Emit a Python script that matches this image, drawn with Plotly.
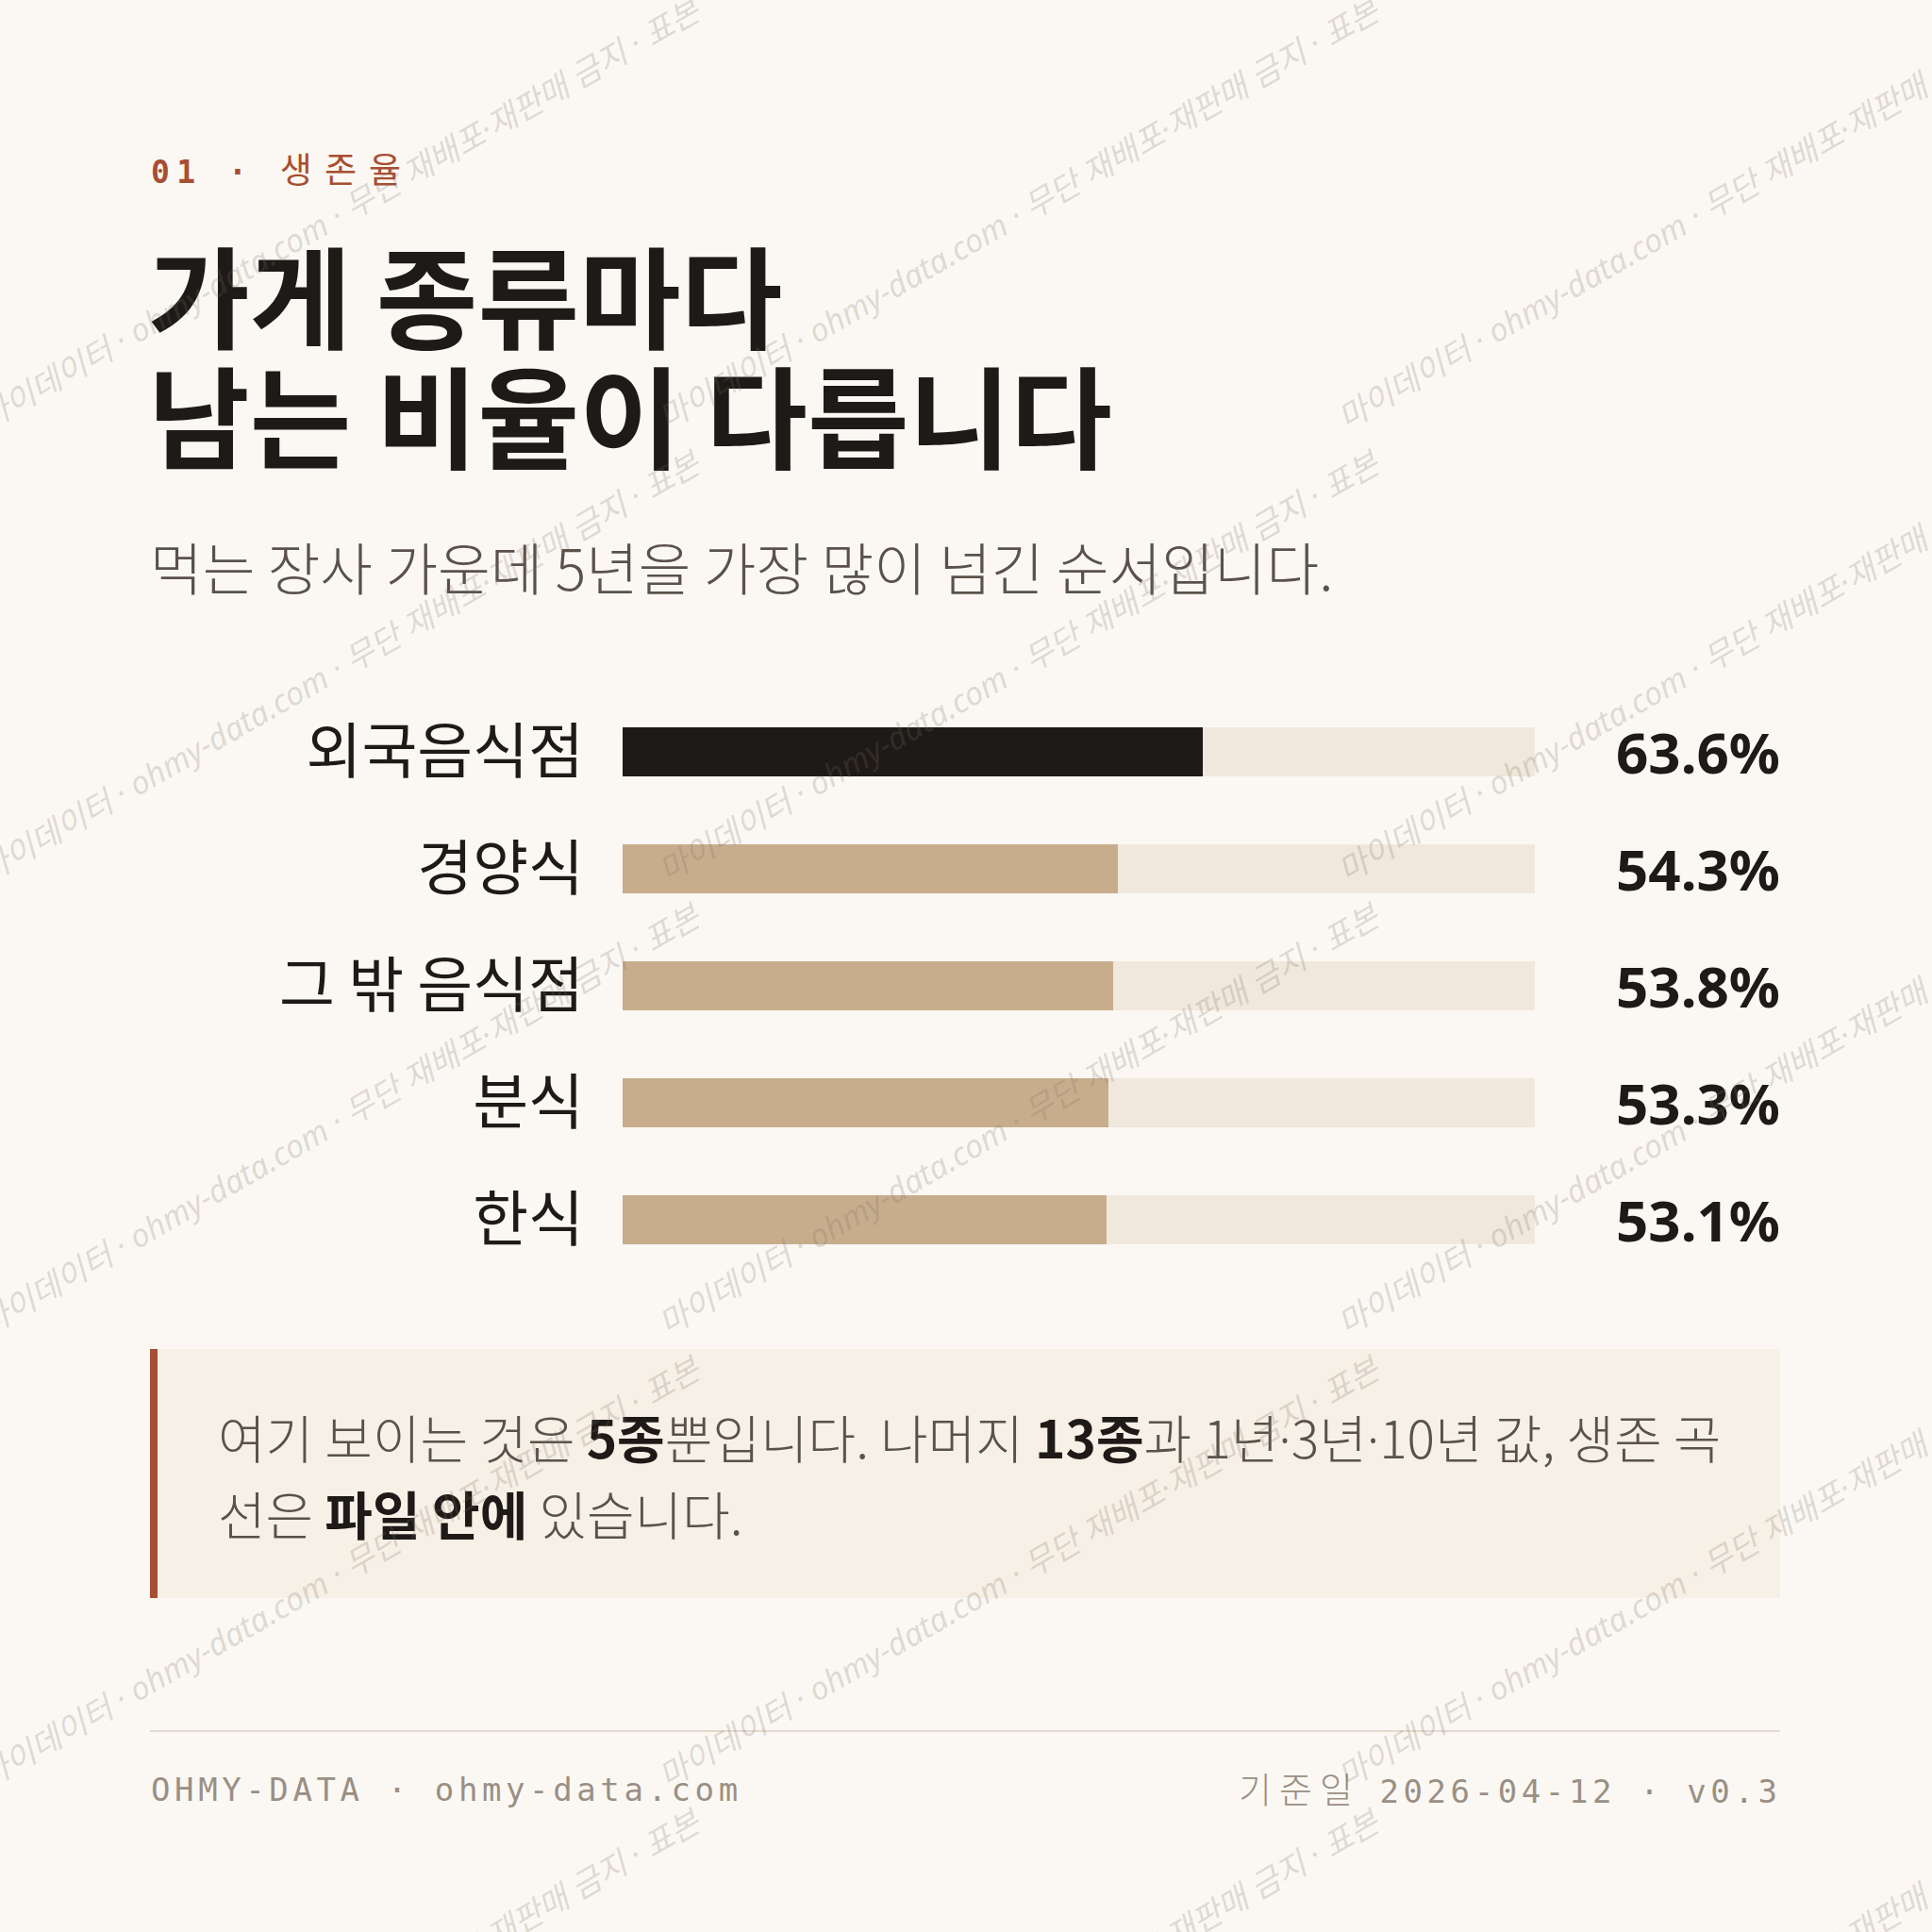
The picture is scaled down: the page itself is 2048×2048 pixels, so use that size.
import plotly.graph_objects as go

# ---------------- data ----------------
categories = ["외국음식점", "경양식", "그 밖 음식점", "분식", "한식"]
survival_5y = [63.6, 54.3, 53.8, 53.3, 53.1]
track_max = [100, 100, 100, 100, 100]
highlight = [True, False, False, False, False]

eyebrow_num = "01"
eyebrow_txt = "생존율"
title_lines = ["가게 종류마다", "남는 비율이 다릅니다"]
subtitle = "먹는 장사 가운데 5년을 가장 많이 넘긴 순서입니다."
note_line1 = ("여기 보이는 것은 <b>5종</b>뿐입니다. 나머지 <b>13종</b>과 "
              "1년·3년·10년 값, 생존 곡")
note_line2 = "선은 <b>파일 안에</b> 있습니다."
footer_left = "OHMY-DATA · ohmy-data.com"
footer_date_label = "기준일"
footer_date = "2026-04-12 · v0.3"
watermark = "마이데이터 · ohmy-data.com · 무단 재배포·재판매 금지 · 표본"

# ---------------- style ----------------
W = H = 2048
BG = "#FBF8F3"
INK = "#1E1A17"
MUTED = "#5A524A"
ACCENT = "#A84E32"
TAN = "#C8AD8D"
TRACK = "#F0E8DC"
NOTE_BG = "#F7F0E6"
FOOT = "#9A8F84"
RULE = "#E3DACD"
KR = "Noto Sans CJK KR, Noto Sans, sans-serif"
LATIN_KR = "Noto Sans, Noto Sans CJK KR, sans-serif"
MONO = "DejaVu Sans Mono, Liberation Mono, monospace"


def px(x):
    return x / W


def py(y):
    return 1 - y / H


def narrow_dots(s):
    return s.replace("·", "<span style='font-family:Noto Sans'>·</span>")


bar_colors = [INK if h else TAN for h in highlight]

fig = go.Figure()
fig.add_trace(go.Bar(
    x=track_max, y=categories, orientation="h", width=0.42,
    marker=dict(color=TRACK, line=dict(width=0)), hoverinfo="skip",
    showlegend=False))
fig.add_trace(go.Bar(
    x=survival_5y, y=categories, orientation="h", width=0.42,
    marker=dict(color=bar_colors, line=dict(width=0)),
    hovertemplate="%{y}: %{x:.1f}%<extra></extra>", showlegend=False))

annotations = []

# value labels
for c, v in zip(categories, survival_5y):
    annotations.append(dict(
        xref="paper", yref="y", x=px(1889), y=c, xanchor="right",
        yanchor="middle", showarrow=False, text=f"{v:.1f}%",
        font=dict(family=LATIN_KR, size=60, color=INK, weight=700)))

# eyebrow
annotations.append(dict(
    xref="paper", yref="paper", x=px(158), y=py(178), xanchor="left",
    yanchor="middle", showarrow=False,
    text=(f"<span style='font-family:{MONO};font-weight:bold;letter-spacing:7.5px'>"
          f"{eyebrow_num} · </span>"
          f"<span style='font-size:37px;letter-spacing:13px'>{eyebrow_txt}</span>"),
    font=dict(family=KR, size=33, color=ACCENT)))

# title
for i, line in enumerate(title_lines):
    annotations.append(dict(
        xref="paper", yref="paper", x=px(155), y=py(310 + 127 * i),
        xanchor="left", yanchor="middle", showarrow=False, text=line,
        font=dict(family=KR, size=117, color=INK, weight=700)))

# subtitle
annotations.append(dict(
    xref="paper", yref="paper", x=px(157), y=py(599), xanchor="left",
    yanchor="middle", showarrow=False, text=subtitle,
    font=dict(family=KR, size=60.5, color=MUTED, weight=300)))

# note text
for i, line in enumerate([note_line1, note_line2]):
    styled = narrow_dots(line).replace(
        "<b>", f"<span style='color:{INK}'><b>").replace("</b>", "</b></span>")
    annotations.append(dict(
        xref="paper", yref="paper", x=px(229), y=py(1522 + 81 * i),
        xanchor="left", yanchor="middle", showarrow=False, text=styled,
        font=dict(family=KR, size=55, color=MUTED, weight=300)))

# footer
annotations.append(dict(
    xref="paper", yref="paper", x=px(158), y=py(1897), xanchor="left",
    yanchor="middle", showarrow=False,
    text=f"<span style='letter-spacing:4.6px'>{footer_left}</span>",
    font=dict(family=MONO, size=34, color=FOOT)))
annotations.append(dict(
    xref="paper", yref="paper", x=px(1891), y=py(1894), xanchor="right",
    yanchor="middle", showarrow=False,
    text=(f"<span style='font-family:Noto Sans CJK KR;font-size:38px;"
          f"font-weight:300;letter-spacing:8px'>{footer_date_label}</span> "
          f"<span style='letter-spacing:4.6px'>{footer_date}</span>"),
    font=dict(family=MONO, size=34, color=FOOT)))

# watermark tiles (720 x 480 repeat, 30 degree tilt)
for i in range(0, 3):
    for j in range(-1, 5):
        cx = 360 + 720 * i
        cy = 226 + 480 * j
        annotations.append(dict(
            xref="paper", yref="paper", x=px(cx), y=py(cy),
            xanchor="center", yanchor="middle", showarrow=False,
            text=watermark, textangle=-30,
            font=dict(family=LATIN_KR, size=34,
                      color="rgba(120,110,100,0.23)", style="italic")))

shapes = [
    dict(type="rect", xref="paper", yref="paper", x0=px(159), x1=px(1887),
         y0=py(1694), y1=py(1430), fillcolor=NOTE_BG, line=dict(width=0),
         layer="below"),
    dict(type="rect", xref="paper", yref="paper", x0=px(159), x1=px(167),
         y0=py(1694), y1=py(1430), fillcolor=ACCENT, line=dict(width=0),
         layer="below"),
    dict(type="line", xref="paper", yref="paper", x0=px(159), x1=px(1887),
         y0=py(1835), y1=py(1835), line=dict(color=RULE, width=2)),
]

fig.update_layout(
    width=W, height=H, margin=dict(l=0, r=0, t=0, b=0),
    paper_bgcolor=BG, plot_bgcolor="rgba(0,0,0,0)",
    barmode="overlay", bargap=0, showlegend=False,
    annotations=annotations, shapes=shapes,
    font=dict(family=KR, color=INK),
    xaxis=dict(domain=[px(660), px(1627)], range=[0, 100], visible=False,
               fixedrange=True),
    yaxis=dict(domain=[py(1355), py(735)], type="category",
               categoryorder="array", categoryarray=categories,
               autorange="reversed", showgrid=False, zeroline=False,
               showline=False, ticks="", ticklabelstandoff=40,
               tickfont=dict(family=KR, size=64, color=INK),
               fixedrange=True),
)

fig.write_html("out.html",
               config={"displayModeBar": False},
               post_script="document.body.style.margin='0';"
                           "document.body.style.background='#FBF8F3';")
